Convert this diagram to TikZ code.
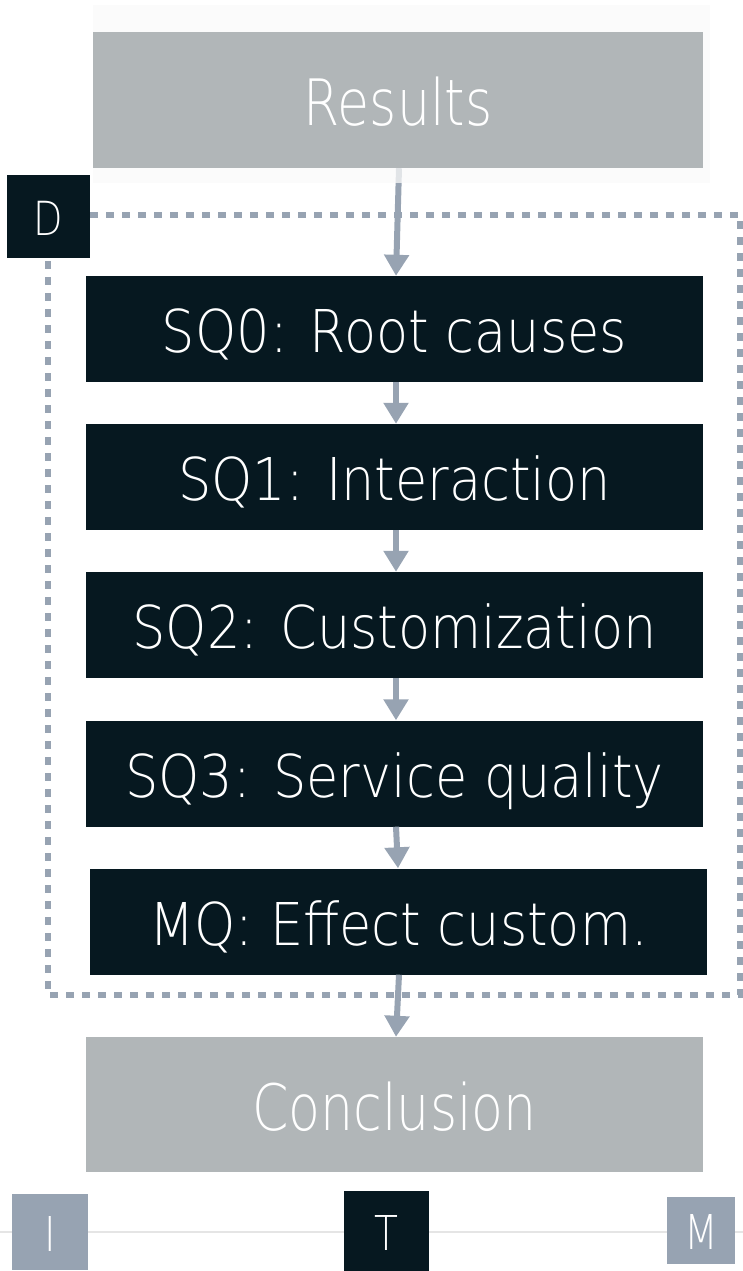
\documentclass[tikz,border=0pt]{standalone}
\usepackage{fontspec}
\usetikzlibrary{arrows.meta}
\newfontfamily\thinfont{DejaVuSans-ExtraLight.ttf}[FakeStretch=0.815]
\newfontfamily\thinwide{DejaVuSans-ExtraLight.ttf}[FakeStretch=0.89]
\definecolor{ink}{HTML}{061820}
\definecolor{stone}{HTML}{B1B6B8}
\definecolor{slate}{HTML}{97A3B2}
\definecolor{haze}{HTML}{FAFAFA}
\definecolor{rule}{HTML}{E5E5E5}
\tikzset{
  box/.style={rectangle, inner sep=0pt, text=white, text depth=0pt},
  darkbox/.style={box, fill=ink, minimum width=617pt, minimum height=106pt,
    font=\thinwide\fontsize{59}{59}\selectfont, text height=47pt},
  greybox/.style={box, fill=stone, minimum width=610pt, minimum height=136pt,
    font=\thinfont\fontsize{64}{64}\selectfont, text height=51pt},
  tag/.style={box, font=\thinfont\fontsize{48}{48}\selectfont, text height=38pt},
  flow/.style={draw=slate, line width=6pt, -{Triangle[width=24pt,length=21pt]}},
  frame/.style={draw=slate, line width=6pt, dash pattern=on 8pt off 8pt}
}
\begin{document}
\begin{tikzpicture}[x=1pt,y=-1pt]
\useasboundingbox (0,0) rectangle (743,1271);

% timeline along the foot
\draw[rule, line width=2pt] (0,1232) -- (743,1232);

% main stages
\node[greybox] (res) at (398,100) {Results};
\node[darkbox] (sq0) at (394.5,329) {SQ0: Root causes};
\node[darkbox] (sq1) at (394.5,477) {SQ1: Interaction};
\node[darkbox] (sq2) at (394.5,625) {SQ2: Customization};
\node[darkbox] (sq3) at (394.5,773.5) {SQ3: Service quality};
\node[darkbox] (mq)  at (398.5,921.5) {MQ: Effect custom.};
\node[greybox, minimum width=617pt, minimum height=135pt] (con) at (394.5,1104.5) {Conclusion};

% dotted frame with its tag
\node[tag, fill=ink, minimum width=83pt, minimum height=83pt,
      font=\thinfont\fontsize{47}{47}\selectfont, text height=37pt] (d) at (48.5,216.5) {D};
\coordinate (ftr) at (740,215);
\coordinate (fbr) at (740,995);
\coordinate (fbl) at (48,995);
\draw[frame] (d.east |- ftr) -- (ftr) -- (fbr) -- (fbl) -- (d.south -| fbl);

% arrows between stages
\draw[flow] ([xshift=1pt]res.south) -- ([xshift=1.5pt]sq0.north);
\draw[flow] ([xshift=1.5pt]sq0.south) -- ([xshift=1.5pt]sq1.north);
\draw[flow] ([xshift=1.5pt]sq1.south) -- ([xshift=1.5pt]sq2.north);
\draw[flow] ([xshift=1.5pt]sq2.south) -- ([xshift=1.5pt]sq3.north);
\draw[flow] ([xshift=1.5pt]sq3.south) -- ([xshift=-0.5pt]mq.north);
\draw[flow] ([xshift=0.5pt]mq.south) -- ([xshift=1.5pt]con.north);

% pale panel behind the results box
\fill[haze, fill opacity=0.75] (93,5) rectangle (710,183);
\node[greybox] at (res) {Results};

% timeline markers
\node[tag, fill=slate, minimum width=76pt, minimum height=76pt] (i) at (50,1232) {I};
\node[tag, fill=ink, minimum width=85pt, minimum height=80pt] (t) at (386.5,1231) {T};
\node[tag, fill=slate, minimum width=68pt, minimum height=67pt] (m) at (701,1230.5) {M};
\end{tikzpicture}
\end{document}
